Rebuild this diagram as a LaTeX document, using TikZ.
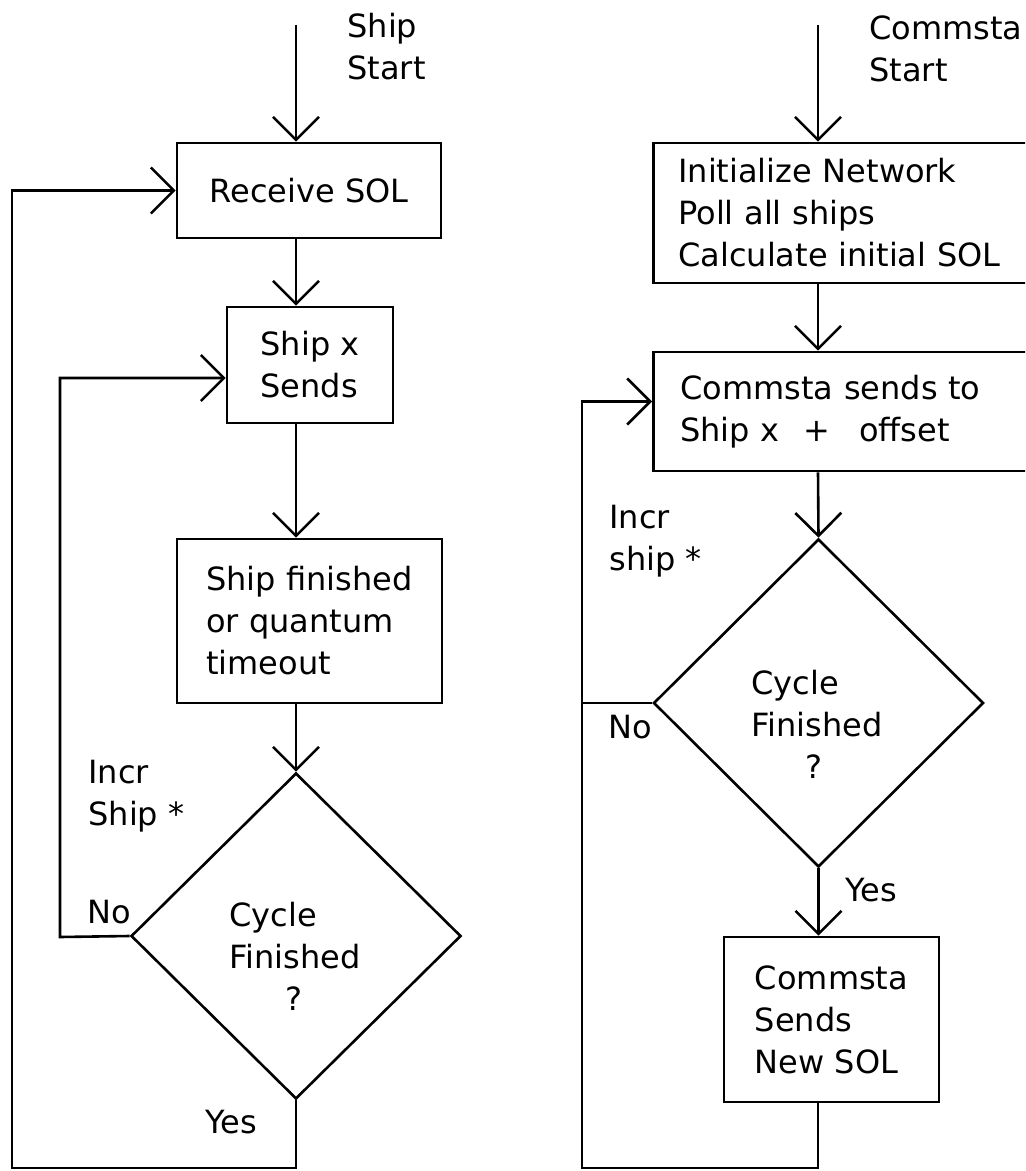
\documentclass[tikz,border=0pt]{standalone}
\usepackage{fontspec}
\setmainfont{DejaVu Sans}
\usetikzlibrary{shapes.geometric,arrows.meta}

\tikzset{
  txt/.style={inner sep=0pt, align=left, font=\fontsize{16}{21}\selectfont},
  box/.style={txt, draw, line width=1.3pt},
  dec/.style={draw, line width=1.3pt, diamond, aspect=1, inner sep=0pt},
  link/.style={line width=1.3pt},
  arr/.style={link, -{Straight Barb[length=11.5pt,width=23pt,line width=1.3pt]}},
}

\begin{document}
\begin{tikzpicture}[x=0.5pt, y=-0.5pt]
  \useasboundingbox (0,0) rectangle (1025,1171);
  \fill[white] (0,0) rectangle (1025,1171);
  \clip (0,0) rectangle (1025,1171);

  % ---------------- ship side ----------------
  \coordinate (sL) at (296,25);
  \node[txt, anchor=north west] (shipstart) at (347,13) {Ship\\Start};

  \node[box, minimum width=132pt, minimum height=47.5pt] (recv) at (309,190.5) {Receive SOL};
  \node[box, minimum width=83pt, minimum height=58pt] (sends) at (310,365) {Ship x\\Sends};
  \node[box, minimum width=132.5pt, minimum height=82pt] (fin) at (309.5,621)
       {Ship finished\\or quantum\\timeout};
  \node[dec, minimum width=165pt, minimum height=163pt] (decL) at (296,936) {};
  \node[txt, anchor=north west] (cycL) at (229,902) {Cycle\\Finished\\\hspace*{28pt}?};

  \node[txt, anchor=north west] (incrL) at (88,760) {Incr\\Ship *};
  \node[txt, anchor=north west] (noL) at (87,900) {No};
  \node[txt, anchor=north west] (yesL) at (205,1110) {Yes};

  \coordinate (loopL) at (12,1168);
  \coordinate (backL) at (60,937);

  \draw[arr] (sL) -- (sL |- recv.north);
  \draw[arr] (recv.south -| sL) -- (sends.north -| sL);
  \draw[arr] (sends.south -| sL) -- (fin.north -| sL);
  \draw[arr] (fin.south -| sL) -- (decL.north);
  \draw[arr] (decL.south) |- (loopL) |- (recv.west);
  \draw[arr] (decL.west) -- (backL) |- ([yshift=-6.5pt]sends.west);

  % ---------------- commsta side ----------------
  \coordinate (sR) at (818,25);
  \node[txt, anchor=north west] (commstart) at (869,15) {Commsta\\Start};

  \node[box, anchor=west, text width=175pt, inner xsep=12.5pt, minimum height=70pt] (init) at (652,213)
       {Initialize Network\\Poll all ships\\Calculate initial SOL};
  \node[box, anchor=west, text width=175pt, inner xsep=13.5pt, minimum height=59.5pt] (cs) at (652,411.5)
       {Commsta sends to\\Ship x\hspace{0.75em}+\hspace{0.9em}offset};
  \node[dec, minimum width=165pt, minimum height=164pt] (decR) at (818.5,703) {};
  \node[txt, anchor=north west] (cycR) at (751,670) {Cycle\\Finished\\\hspace*{27pt}?};
  \node[box, minimum width=107.5pt, minimum height=82.5pt] (newsol) at (831.5,1019.5)
       {Commsta\\Sends\\New SOL};

  \node[txt, anchor=north west] (incrR) at (609,505) {Incr\\ship *};
  \node[txt, anchor=north west] (noR) at (608,715) {No};
  \node[txt, anchor=north west] (yesR) at (845,878) {Yes};

  \coordinate (loopR) at (582,1168);

  \draw[arr] (sR) -- (sR |- init.north);
  \draw[arr] (init.south -| sR) -- (cs.north -| sR);
  \draw[arr] (cs.south -| sR) -- (decR.north);
  \draw[arr] (decR.south) -- (decR.south |- newsol.north);
  \draw[arr] (newsol.south -| sR) |- (loopR) |- ([yshift=5pt]cs.west);
  \draw[link] (decR.west) -- (decR.west -| loopR);
\end{tikzpicture}
\end{document}
